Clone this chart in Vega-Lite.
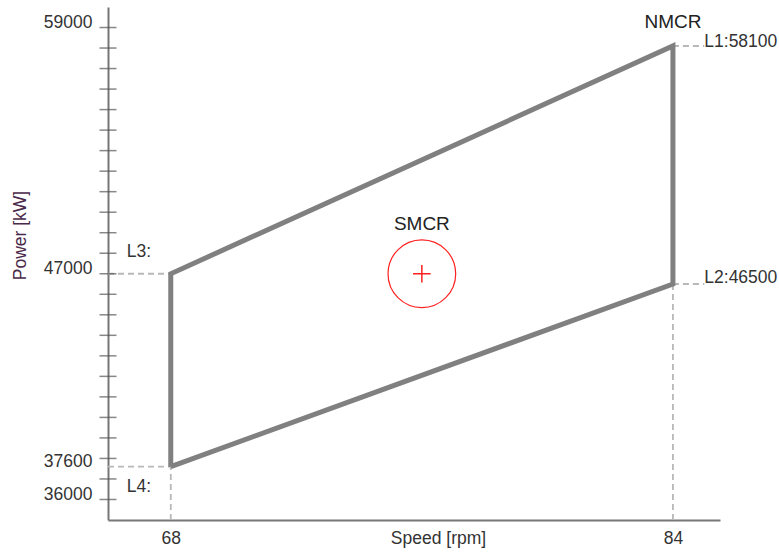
{
  "$schema": "https://vega.github.io/schema/vega-lite/v6.json",
  "width": 612,
  "height": 513,
  "autosize": "none",
  "padding": {"left": 108, "top": 7, "right": 59, "bottom": 34},
  "background": "white",
  "config": {
    "view": {"stroke": null},
    "font": "Liberation Sans",
    "axis": {"grid": false, "labelFont": "Liberation Sans", "titleFont": "Liberation Sans", "labelFontSize": 17.5, "titleFontSize": 17.5, "labelColor": "#333", "titleFontWeight": "normal", "domainColor": "#777", "domainWidth": 2}
  },
  "datasets": {
    "guides": [
      {"x": 66, "x2": 68, "y": 47000, "y2": 47000},
      {"x": 66, "x2": 68, "y": 37600, "y2": 37600},
      {"x": 68, "x2": 68, "y": 35000, "y2": 37600},
      {"x": 84, "x2": 85, "y": 58100, "y2": 58100},
      {"x": 84, "x2": 85, "y": 46500, "y2": 46500},
      {"x": 84, "x2": 84, "y": 35000, "y2": 46500}
    ],
    "envelope": [
      {"order": 1, "speed": 68, "power": 37600},
      {"order": 2, "speed": 68, "power": 47000},
      {"order": 3, "speed": 84, "power": 58100},
      {"order": 4, "speed": 84, "power": 46500},
      {"order": 5, "speed": 68, "power": 37600}
    ],
    "ruler": [
      {"power": 36000}, {"power": 37000}, {"power": 38000}, {"power": 39000},
      {"power": 40000}, {"power": 41000}, {"power": 42000}, {"power": 43000},
      {"power": 44000}, {"power": 45000}, {"power": 46000}, {"power": 47000},
      {"power": 48000}, {"power": 49000}, {"power": 50000}, {"power": 51000},
      {"power": 52000}, {"power": 53000}, {"power": 54000}, {"power": 55000},
      {"power": 56000}, {"power": 57000}, {"power": 58000}, {"power": 59000}
    ],
    "smcr": [{"speed": 76, "power": 47000}],
    "smallLabels": [
      {"label": "L3:", "x": 66.6, "y": 48060},
      {"label": "L4:", "x": 66.6, "y": 36608},
      {"label": "L1:58100", "x": 85.0, "y": 58294},
      {"label": "L2:46500", "x": 85.0, "y": 46793}
    ],
    "bigLabels": [
      {"label": "NMCR", "x": 84, "y": 59284},
      {"label": "SMCR", "x": 76, "y": 49425}
    ]
  },
  "layer": [
    {
      "data": {"name": "guides"},
      "mark": {"type": "rule", "color": "#b8b8b8", "strokeWidth": 1.8, "strokeDash": [6, 4]},
      "encoding": {
        "x": {"field": "x", "type": "quantitative", "scale": {"domain": [66, 85.5], "nice": false, "zero": false},
          "axis": {"values": [68, 84], "ticks": false, "labelPadding": 9, "title": "Speed [rpm]", "titleX": 330, "titleY": 18, "titleBaseline": "middle", "titleAlign": "center", "titleColor": "#333", "format": "d"}},
        "x2": {"field": "x2"},
        "y": {"field": "y", "type": "quantitative", "scale": {"domain": [35000, 60000], "nice": false, "zero": false},
          "axis": {"values": [36000, 37600, 47000, 59000], "ticks": false, "labelPadding": 16, "labelOffset": -5, "format": "d", "title": "Power [kW]", "titleX": -88, "titleY": 228, "titleAngle": -90, "titleAlign": "center", "titleBaseline": "middle", "titleColor": "#4a2a4a"}},
        "y2": {"field": "y2"}
      }
    },
    {
      "data": {"name": "ruler"},
      "mark": {"type": "tick", "orient": "horizontal", "color": "#555", "size": 17, "thickness": 1.5},
      "encoding": {
        "x": {"datum": 66, "type": "quantitative"},
        "y": {"field": "power", "type": "quantitative"}
      }
    },
    {
      "data": {"name": "envelope"},
      "mark": {"type": "line", "color": "#808080", "strokeWidth": 5, "strokeJoin": "miter"},
      "encoding": {
        "x": {"field": "speed", "type": "quantitative"},
        "y": {"field": "power", "type": "quantitative"},
        "order": {"field": "order", "type": "quantitative"}
      }
    },
    {
      "data": {"name": "smcr"},
      "mark": {"type": "point", "shape": "circle", "size": 4580, "color": "#ff2020", "strokeWidth": 1.2, "filled": false, "opacity": 1},
      "encoding": {
        "x": {"field": "speed", "type": "quantitative"},
        "y": {"field": "power", "type": "quantitative"}
      }
    },
    {
      "data": {"name": "smcr"},
      "mark": {"type": "point", "shape": "M-1,0L1,0M0,-1L0,1", "size": 310, "color": "#ff2020", "strokeWidth": 1.5, "filled": false, "opacity": 1},
      "encoding": {
        "x": {"field": "speed", "type": "quantitative"},
        "y": {"field": "power", "type": "quantitative"}
      }
    },
    {
      "data": {"name": "smallLabels"},
      "mark": {"type": "text", "align": "left", "baseline": "middle", "fontSize": 17.5, "color": "#333"},
      "encoding": {
        "x": {"field": "x", "type": "quantitative"},
        "y": {"field": "y", "type": "quantitative"},
        "text": {"field": "label"}
      }
    },
    {
      "data": {"name": "bigLabels"},
      "mark": {"type": "text", "align": "center", "baseline": "middle", "fontSize": 19, "color": "#222"},
      "encoding": {
        "x": {"field": "x", "type": "quantitative"},
        "y": {"field": "y", "type": "quantitative"},
        "text": {"field": "label"}
      }
    }
  ]
}
